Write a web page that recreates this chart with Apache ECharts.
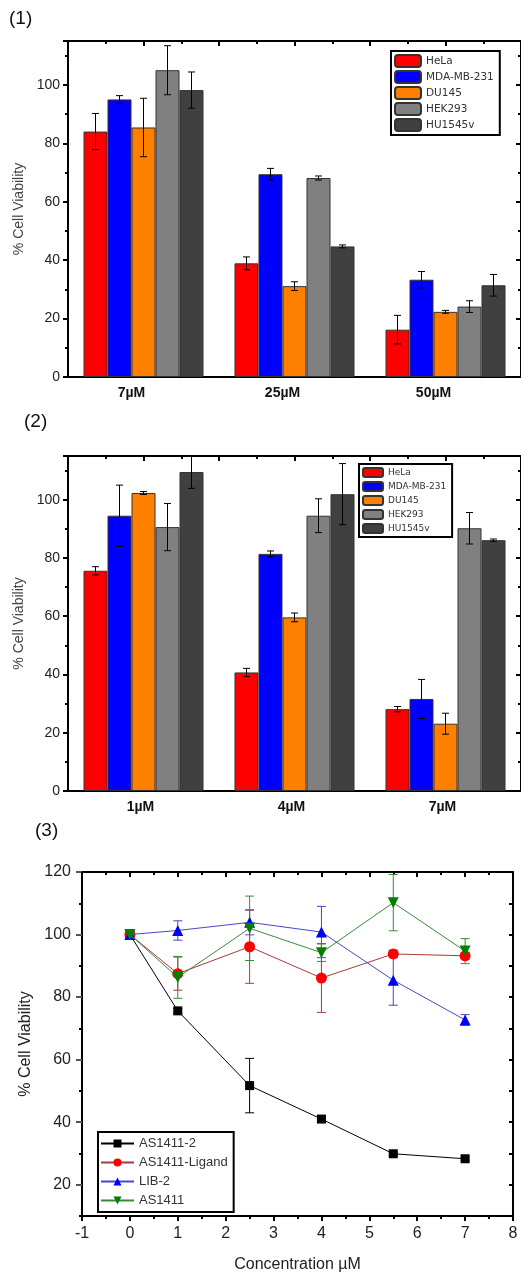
<!DOCTYPE html>
<html>
<head>
<meta charset="utf-8">
<script src="https://cdn.jsdelivr.net/npm/echarts@6/dist/echarts.min.js"></script>
<style>
  html, body { margin: 0; padding: 0; background: #fff; }
  #chart-container { width: 521px; height: 1274px; }
</style>
</head>
<body>
<div id="chart-container"></div>
<script>
// cell lines used in panels (1) and (2)
var cellLines = ["HeLa", "MDA-MB-231", "DU145", "HEK293", "HU1545v"];
var cellColors = ["#ff0000", "#0000ff", "#ff8000", "#808080", "#404040"];

// panel (1)
var doses1 = ["7µM", "25µM", "50µM"];
var means1 = [
  [84.0, 38.9, 16.2],
  [95.0, 69.4, 33.3],
  [85.4, 31.1, 22.3],
  [105.0, 68.1, 24.1],
  [98.2, 44.7, 31.4]
];
var errs1 = [
  [6.2, 2.2, 4.9],
  [1.3, 2.0, 2.8],
  [10.0, 1.5, 0.5],
  [8.4, 0.7, 2.0],
  [6.2, 0.5, 3.7]
];

// panel (2)
var doses2 = ["1µM", "4µM", "7µM"];
var means2 = [
  [75.6, 40.7, 28.1],
  [94.5, 81.4, 31.6],
  [102.3, 59.6, 23.1],
  [90.6, 94.5, 90.2],
  [109.5, 101.9, 86.1]
];
var errs2 = [
  [1.4, 1.4, 0.9],
  [10.5, 1.0, 6.7],
  [0.5, 1.5, 3.6],
  [8.1, 5.8, 5.4],
  [5.6, 10.5, 0.4]
];

// panel (3)
var conc = [0, 1, 2.5, 4, 5.5, 7];
var compounds = ["AS1411-2", "AS1411-Ligand", "LIB-2", "AS1411"];
var viab3 = [
  [100, 75.6, 51.7, 41.0, 29.9, 28.3],
  [100, 87.5, 96.1, 86.1, 93.8, 93.2],
  [100, 101.3, 103.9, 100.8, 85.4, 72.7],
  [100, 86.3, 102.0, 94.2, 110.2, 94.7]
];
var errs3 = [
  [0.5, 0.8, 8.7, 1.0, 0.5, 0.5],
  [0.5, 5.3, 11.7, 11.0, 1.2, 1.0],
  [1.0, 3.1, 4.0, 8.2, 8.0, 1.7],
  [0.5, 6.7, 10.3, 2.8, 9.0, 4.0]
];
var markColors = ["#000000", "#ff0000", "#0000ff", "#008000"];
var lineColors = ["#000000", "#a83a3a", "#4848c8", "#3a8a3a"];
var symbols = ["rect", "circle", "triangle", "triangle"];
var symRot = [0, 0, 0, 180];
var y3Majors = [20, 40, 60, 80, 100, 120];

var FONT = "Liberation Sans";
var BAR_W = 24;

function errGroup(cx, yHi, yLo, cap, color) {
  var st = { stroke: color, lineWidth: 1 };
  return {
    type: "group",
    children: [
      { type: "line", shape: { x1: cx, y1: yHi, x2: cx, y2: yLo }, style: st },
      { type: "line", shape: { x1: cx - cap / 2, y1: yHi, x2: cx + cap / 2, y2: yHi }, style: st },
      { type: "line", shape: { x1: cx - cap / 2, y1: yLo, x2: cx + cap / 2, y2: yLo }, style: st }
    ]
  };
}

function barErrRender(k) {
  return function (params, api) {
    var i = api.value(0), m = api.value(1), e = api.value(2);
    var hi = api.coord([i, m + e]);
    var lo = api.coord([i, m - e]);
    var cx = hi[0] + (k - 2) * BAR_W;
    return errGroup(cx, hi[1], lo[1], 7, "#000");
  };
}

function lineErrRender(color) {
  return function (params, api) {
    var x = api.value(0), m = api.value(1), e = api.value(2);
    var hi = api.coord([x, m + e]);
    var lo = api.coord([x, m - e]);
    return errGroup(hi[0], hi[1], lo[1], 9, color);
  };
}

var axisLine2 = { show: true, onZero: false, lineStyle: { color: "#000", width: 2 } };
var noLine = { show: false, onZero: false };

function barPanelAxes(gi, cats, padRight) {
  return {
    x: [
      {
        type: "category", gridIndex: gi, data: cats, position: "bottom",
        axisLine: axisLine2, axisTick: { show: false },
        axisLabel: { fontFamily: FONT, fontWeight: "bold", fontSize: 14, color: "#111", margin: 9, padding: [0, padRight, 0, 0] }
      },
      {
        type: "value", gridIndex: gi, position: "top", min: 0, max: 3, interval: 0.5,
        axisLine: axisLine2, axisLabel: { show: false }, splitLine: { show: false },
        axisTick: { inside: true, length: 5, lineStyle: { width: 2 } },
        minorTick: { show: true, splitNumber: 2, length: 3, lineStyle: { color: "#000", width: 2 } }
      }
    ],
    y: [
      {
        type: "value", gridIndex: gi, position: "left", min: 0, max: 115, interval: 20,
        name: "% Cell Viability", nameLocation: "middle", nameGap: 42,
        nameTextStyle: { fontFamily: FONT, fontSize: 14, color: "#444" },
        axisLine: axisLine2, splitLine: { show: false },
        axisTick: { length: 5, lineStyle: { width: 2 } },
        minorTick: { show: true, splitNumber: 2, length: 3, lineStyle: { color: "#000", width: 2 } },
        axisLabel: { fontFamily: FONT, fontSize: 14, color: "#222", margin: 8, showMaxLabel: false }
      },
      {
        type: "value", gridIndex: gi, position: "right", min: 0, max: 115, interval: 20,
        axisLine: axisLine2, splitLine: { show: false }, axisLabel: { show: false },
        axisTick: { inside: true, length: 5, lineStyle: { width: 2 } },
        minorTick: { show: true, splitNumber: 2, length: 3, lineStyle: { color: "#000", width: 2 } }
      }
    ]
  };
}

var p1 = barPanelAxes(0, doses1, 24);
var p2 = barPanelAxes(1, doses2, 6);

var xAxes = p1.x.concat(p2.x).concat([
  {
    type: "value", gridIndex: 2, position: "bottom", min: -1, max: 8, interval: 1,
    name: "Concentration µM", nameLocation: "middle", nameGap: 41,
    nameTextStyle: { fontFamily: FONT, fontSize: 16, color: "#222" },
    axisLine: axisLine2, splitLine: { show: false },
    axisTick: { length: 5, lineStyle: { width: 2 } },
    minorTick: { show: true, splitNumber: 2, length: 3, lineStyle: { color: "#000", width: 2 } },
    axisLabel: { fontFamily: FONT, fontSize: 16, color: "#222", margin: 10 }
  },
  {
    type: "value", gridIndex: 2, position: "top", min: -1, max: 8, interval: 1,
    axisLine: axisLine2, splitLine: { show: false }, axisLabel: { show: false },
    axisTick: { inside: true, length: 5, lineStyle: { width: 2 } },
    minorTick: { show: true, splitNumber: 2, length: 3, lineStyle: { color: "#000", width: 2 } }
  }
]);

var yAxes = p1.y.concat(p2.y).concat([
  {
    type: "value", gridIndex: 2, position: "left", min: 10, max: 120, interval: 10,
    name: "% Cell Viability", nameLocation: "middle", nameGap: 47,
    nameTextStyle: { fontFamily: FONT, fontSize: 16, color: "#222" },
    axisLine: axisLine2, splitLine: { show: false },
    axisTick: { length: 3, lineStyle: { width: 2 } },
    axisLabel: {
      fontFamily: FONT, fontSize: 16, color: "#222", margin: 11,
      formatter: function (v) { return y3Majors.indexOf(v) >= 0 ? String(v) : ""; }
    }
  },
  {
    type: "value", gridIndex: 2, position: "right", min: 10, max: 120, interval: 10,
    axisLine: axisLine2, splitLine: { show: false }, axisLabel: { show: false },
    axisTick: { inside: true, length: 4, lineStyle: { width: 2 } }
  },
  {
    type: "value", gridIndex: 2, position: "left", min: 10, max: 120, interval: 10,
    axisLine: noLine, splitLine: { show: false }, axisLabel: { show: false },
    axisTick: { length: 6, lineStyle: { width: 2 }, customValues: y3Majors }
  }
]);

var series = [];
function addBarPanel(means, errs, xi, yi) {
  cellLines.forEach(function (name, k) {
    series.push({
      name: name, type: "bar", xAxisIndex: xi, yAxisIndex: yi,
      barWidth: BAR_W, barGap: "0%",
      itemStyle: { color: cellColors[k], borderColor: "#333", borderWidth: 1 },
      data: means[k]
    });
  });
  cellLines.forEach(function (name, k) {
    series.push({
      name: "err-" + name, type: "custom", xAxisIndex: xi, yAxisIndex: yi,
      renderItem: barErrRender(k), clip: true, z: 5,
      encode: { x: 0, y: 1 },
      data: means[k].map(function (m, i) { return [i, m, errs[k][i]]; })
    });
  });
}
addBarPanel(means1, errs1, 0, 0);
addBarPanel(means2, errs2, 2, 2);

compounds.forEach(function (name, k) {
  series.push({
    name: "err-" + name, type: "custom", xAxisIndex: 4, yAxisIndex: 4,
    renderItem: lineErrRender(lineColors[k]), clip: true, z: 3,
    encode: { x: 0, y: 1 },
    data: conc.map(function (c, i) { return [c, viab3[k][i], errs3[k][i]]; })
  });
});
compounds.forEach(function (name, k) {
  series.push({
    name: name, type: "line", xAxisIndex: 4, yAxisIndex: 4,
    symbol: symbols[k], symbolRotate: symRot[k], symbolSize: k === 0 ? 9 : 11,
    itemStyle: { color: markColors[k] },
    lineStyle: { color: lineColors[k], width: 1 },
    z: 4 + k,
    data: conc.map(function (c, i) { return [c, viab3[k][i]]; })
  });
});

var option = {
  animation: false,
  backgroundColor: "#fff",
  title: [
    { text: "(1)", left: 9, top: 9, padding: 0, textStyle: { fontFamily: FONT, fontSize: 19, fontWeight: "normal", color: "#111" } },
    { text: "(2)", left: 24, top: 412, padding: 0, textStyle: { fontFamily: FONT, fontSize: 19, fontWeight: "normal", color: "#111" } },
    { text: "(3)", left: 35, top: 821, padding: 0, textStyle: { fontFamily: FONT, fontSize: 19, fontWeight: "normal", color: "#111" } }
  ],
  grid: [
    { left: 68, top: 41, right: -1, height: 336 },
    { left: 68, top: 456, right: -1, height: 335 },
    { left: 82, top: 872, width: 431, height: 347 }
  ],
  legend: [
    {
      data: cellLines, orient: "vertical", left: 391, top: 51,
      itemWidth: 26, itemHeight: 12, itemGap: 2, padding: [3, 6, 3, 3],
      borderColor: "#000", borderWidth: 2, backgroundColor: "#fff", selectedMode: false,
      textStyle: { fontFamily: "DejaVu Sans", fontSize: 10.5, color: "#333" }
    },
    {
      data: cellLines, orient: "vertical", left: 359, top: 464,
      itemWidth: 20, itemHeight: 9, itemGap: 3, padding: [3, 6, 3, 3],
      borderColor: "#000", borderWidth: 2, backgroundColor: "#fff", selectedMode: false,
      textStyle: { fontFamily: "DejaVu Sans", fontSize: 9, color: "#333" }
    },
    {
      data: compounds, orient: "vertical", left: 98, top: 1132,
      itemWidth: 33, itemHeight: 10, itemGap: 6, padding: [5, 6, 5, 2],
      borderColor: "#000", borderWidth: 2, backgroundColor: "#fff", selectedMode: false,
      textStyle: { fontFamily: FONT, fontSize: 13, color: "#333" }
    }
  ],
  xAxis: xAxes,
  yAxis: yAxes,
  series: series
};

var dom = document.getElementById("chart-container");
var myChart = echarts.init(dom, null, { renderer: "canvas" });
myChart.setOption(option);
</script>
</body>
</html>
